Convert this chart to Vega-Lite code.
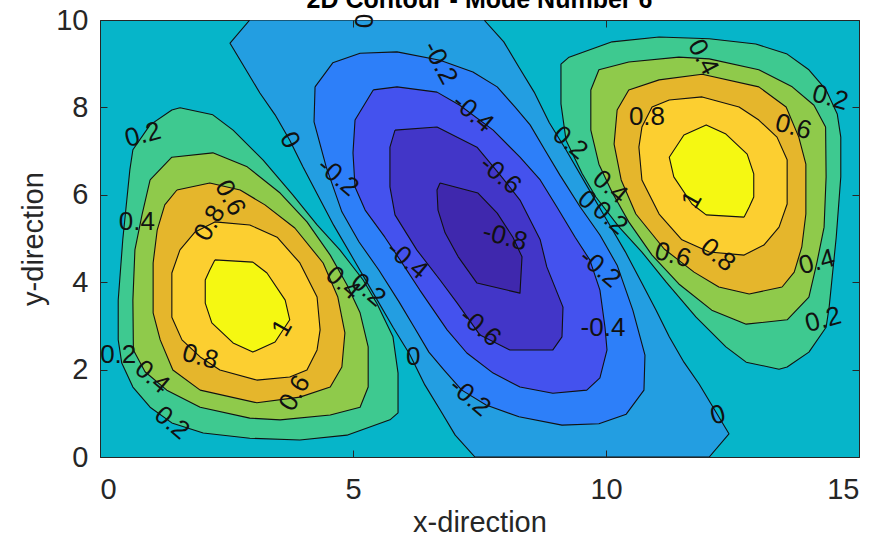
{
  "$schema": "https://vega.github.io/schema/vega-lite/v6.json",
  "width": 759,
  "height": 437,
  "autosize": {"type": "none"},
  "padding": {"left": 100, "top": 20, "right": 32, "bottom": 82},
  "background": "white",
  "title": {
    "text": "2D Contour - Mode Number 6",
    "font": "Liberation Sans",
    "fontSize": 25,
    "fontWeight": "bold",
    "color": "#000000",
    "anchor": "middle",
    "frame": "group",
    "baseline": "alphabetic",
    "offset": 0,
    "dy": 27
  },
  "config": {
    "font": "Liberation Sans",
    "view": {"fill": "#06b5c9", "stroke": "#262626", "strokeWidth": 1}
  },
  "datasets": {
    "contours": [
      {"lobe": "L", "level": "0.2", "i": 0, "x": 1.58, "y": 7.99},
      {"lobe": "L", "level": "0.2", "i": 1, "x": 2.23, "y": 7.83},
      {"lobe": "L", "level": "0.2", "i": 2, "x": 2.63, "y": 7.48},
      {"lobe": "L", "level": "0.2", "i": 3, "x": 3.22, "y": 6.80},
      {"lobe": "L", "level": "0.2", "i": 4, "x": 3.81, "y": 6.00},
      {"lobe": "L", "level": "0.2", "i": 5, "x": 4.29, "y": 5.31},
      {"lobe": "L", "level": "0.2", "i": 6, "x": 4.74, "y": 4.74},
      {"lobe": "L", "level": "0.2", "i": 7, "x": 5.20, "y": 4.05},
      {"lobe": "L", "level": "0.2", "i": 8, "x": 5.47, "y": 3.52},
      {"lobe": "L", "level": "0.2", "i": 9, "x": 5.79, "y": 2.75},
      {"lobe": "L", "level": "0.2", "i": 10, "x": 5.89, "y": 1.92},
      {"lobe": "L", "level": "0.2", "i": 11, "x": 5.89, "y": 1.01},
      {"lobe": "L", "level": "0.2", "i": 12, "x": 5.73, "y": 0.85},
      {"lobe": "L", "level": "0.2", "i": 13, "x": 4.88, "y": 0.50},
      {"lobe": "L", "level": "0.2", "i": 14, "x": 3.95, "y": 0.39},
      {"lobe": "L", "level": "0.2", "i": 15, "x": 2.96, "y": 0.43},
      {"lobe": "L", "level": "0.2", "i": 16, "x": 2.04, "y": 0.55},
      {"lobe": "L", "level": "0.2", "i": 17, "x": 1.42, "y": 0.78},
      {"lobe": "L", "level": "0.2", "i": 18, "x": 0.99, "y": 1.14},
      {"lobe": "L", "level": "0.2", "i": 19, "x": 0.65, "y": 1.60},
      {"lobe": "L", "level": "0.2", "i": 20, "x": 0.43, "y": 2.15},
      {"lobe": "L", "level": "0.2", "i": 21, "x": 0.36, "y": 2.68},
      {"lobe": "L", "level": "0.2", "i": 22, "x": 0.36, "y": 3.59},
      {"lobe": "L", "level": "0.2", "i": 23, "x": 0.45, "y": 4.97},
      {"lobe": "L", "level": "0.2", "i": 24, "x": 0.59, "y": 6.57},
      {"lobe": "L", "level": "0.2", "i": 25, "x": 0.65, "y": 7.03},
      {"lobe": "L", "level": "0.2", "i": 26, "x": 0.99, "y": 7.60},
      {"lobe": "L", "level": "0.2", "i": 27, "x": 1.42, "y": 7.94},
      {"lobe": "L", "level": "0.2", "i": 28, "x": 1.58, "y": 7.99},

      {"lobe": "R", "level": "0.2", "i": 0, "x": 13.42, "y": 2.01},
      {"lobe": "R", "level": "0.2", "i": 1, "x": 12.77, "y": 2.17},
      {"lobe": "R", "level": "0.2", "i": 2, "x": 12.37, "y": 2.52},
      {"lobe": "R", "level": "0.2", "i": 3, "x": 11.78, "y": 3.20},
      {"lobe": "R", "level": "0.2", "i": 4, "x": 11.19, "y": 4.00},
      {"lobe": "R", "level": "0.2", "i": 5, "x": 10.71, "y": 4.69},
      {"lobe": "R", "level": "0.2", "i": 6, "x": 10.26, "y": 5.26},
      {"lobe": "R", "level": "0.2", "i": 7, "x": 9.80, "y": 5.95},
      {"lobe": "R", "level": "0.2", "i": 8, "x": 9.53, "y": 6.48},
      {"lobe": "R", "level": "0.2", "i": 9, "x": 9.21, "y": 7.25},
      {"lobe": "R", "level": "0.2", "i": 10, "x": 9.11, "y": 8.08},
      {"lobe": "R", "level": "0.2", "i": 11, "x": 9.11, "y": 8.99},
      {"lobe": "R", "level": "0.2", "i": 12, "x": 9.27, "y": 9.15},
      {"lobe": "R", "level": "0.2", "i": 13, "x": 10.12, "y": 9.50},
      {"lobe": "R", "level": "0.2", "i": 14, "x": 11.05, "y": 9.61},
      {"lobe": "R", "level": "0.2", "i": 15, "x": 12.04, "y": 9.57},
      {"lobe": "R", "level": "0.2", "i": 16, "x": 12.96, "y": 9.45},
      {"lobe": "R", "level": "0.2", "i": 17, "x": 13.58, "y": 9.22},
      {"lobe": "R", "level": "0.2", "i": 18, "x": 14.01, "y": 8.86},
      {"lobe": "R", "level": "0.2", "i": 19, "x": 14.35, "y": 8.40},
      {"lobe": "R", "level": "0.2", "i": 20, "x": 14.57, "y": 7.85},
      {"lobe": "R", "level": "0.2", "i": 21, "x": 14.64, "y": 7.32},
      {"lobe": "R", "level": "0.2", "i": 22, "x": 14.64, "y": 6.41},
      {"lobe": "R", "level": "0.2", "i": 23, "x": 14.55, "y": 5.03},
      {"lobe": "R", "level": "0.2", "i": 24, "x": 14.41, "y": 3.43},
      {"lobe": "R", "level": "0.2", "i": 25, "x": 14.35, "y": 2.97},
      {"lobe": "R", "level": "0.2", "i": 26, "x": 14.01, "y": 2.40},
      {"lobe": "R", "level": "0.2", "i": 27, "x": 13.58, "y": 2.06},
      {"lobe": "R", "level": "0.2", "i": 28, "x": 13.42, "y": 2.01},

      {"lobe": "N", "level": "0", "i": 0, "x": 2.96, "y": 10},
      {"lobe": "N", "level": "0", "i": 1, "x": 2.57, "y": 9.47},
      {"lobe": "N", "level": "0", "i": 2, "x": 3.16, "y": 8.33},
      {"lobe": "N", "level": "0", "i": 3, "x": 3.46, "y": 7.83},
      {"lobe": "N", "level": "0", "i": 4, "x": 3.75, "y": 7.25},
      {"lobe": "N", "level": "0", "i": 5, "x": 4.01, "y": 6.64},
      {"lobe": "N", "level": "0", "i": 6, "x": 4.30, "y": 6.00},
      {"lobe": "N", "level": "0", "i": 7, "x": 4.62, "y": 5.30},
      {"lobe": "N", "level": "0", "i": 8, "x": 5.00, "y": 4.55},
      {"lobe": "N", "level": "0", "i": 9, "x": 5.40, "y": 3.75},
      {"lobe": "N", "level": "0", "i": 10, "x": 5.80, "y": 2.95},
      {"lobe": "N", "level": "0", "i": 11, "x": 6.12, "y": 2.35},
      {"lobe": "N", "level": "0", "i": 12, "x": 6.42, "y": 1.65},
      {"lobe": "N", "level": "0", "i": 13, "x": 6.72, "y": 1.08},
      {"lobe": "N", "level": "0", "i": 14, "x": 7.02, "y": 0.50},
      {"lobe": "N", "level": "0", "i": 15, "x": 7.41, "y": 0},
      {"lobe": "N", "level": "0", "i": 16, "x": 12.04, "y": 0},
      {"lobe": "N", "level": "0", "i": 17, "x": 12.43, "y": 0.53},
      {"lobe": "N", "level": "0", "i": 18, "x": 11.84, "y": 1.67},
      {"lobe": "N", "level": "0", "i": 19, "x": 11.54, "y": 2.17},
      {"lobe": "N", "level": "0", "i": 20, "x": 11.25, "y": 2.75},
      {"lobe": "N", "level": "0", "i": 21, "x": 10.99, "y": 3.36},
      {"lobe": "N", "level": "0", "i": 22, "x": 10.70, "y": 4.00},
      {"lobe": "N", "level": "0", "i": 23, "x": 10.38, "y": 4.70},
      {"lobe": "N", "level": "0", "i": 24, "x": 10.00, "y": 5.45},
      {"lobe": "N", "level": "0", "i": 25, "x": 9.60, "y": 6.25},
      {"lobe": "N", "level": "0", "i": 26, "x": 9.20, "y": 7.05},
      {"lobe": "N", "level": "0", "i": 27, "x": 8.88, "y": 7.65},
      {"lobe": "N", "level": "0", "i": 28, "x": 8.58, "y": 8.35},
      {"lobe": "N", "level": "0", "i": 29, "x": 8.28, "y": 8.92},
      {"lobe": "N", "level": "0", "i": 30, "x": 7.98, "y": 9.50},
      {"lobe": "N", "level": "0", "i": 31, "x": 7.59, "y": 10},
      {"lobe": "N", "level": "0", "i": 32, "x": 2.96, "y": 10},

      {"lobe": "L", "level": "0.4", "i": 0, "x": 0.99, "y": 6.34},
      {"lobe": "L", "level": "0.4", "i": 1, "x": 1.42, "y": 6.86},
      {"lobe": "L", "level": "0.4", "i": 2, "x": 2.23, "y": 6.96},
      {"lobe": "L", "level": "0.4", "i": 3, "x": 2.91, "y": 6.64},
      {"lobe": "L", "level": "0.4", "i": 4, "x": 3.56, "y": 6.04},
      {"lobe": "L", "level": "0.4", "i": 5, "x": 4.09, "y": 5.38},
      {"lobe": "L", "level": "0.4", "i": 6, "x": 4.55, "y": 4.62},
      {"lobe": "L", "level": "0.4", "i": 7, "x": 4.88, "y": 3.94},
      {"lobe": "L", "level": "0.4", "i": 8, "x": 5.14, "y": 3.30},
      {"lobe": "L", "level": "0.4", "i": 9, "x": 5.30, "y": 2.52},
      {"lobe": "L", "level": "0.4", "i": 10, "x": 5.30, "y": 1.60},
      {"lobe": "L", "level": "0.4", "i": 11, "x": 5.14, "y": 1.14},
      {"lobe": "L", "level": "0.4", "i": 12, "x": 4.55, "y": 0.96},
      {"lobe": "L", "level": "0.4", "i": 13, "x": 3.56, "y": 0.85},
      {"lobe": "L", "level": "0.4", "i": 14, "x": 2.96, "y": 0.89},
      {"lobe": "L", "level": "0.4", "i": 15, "x": 1.98, "y": 1.14},
      {"lobe": "L", "level": "0.4", "i": 16, "x": 1.32, "y": 1.53},
      {"lobe": "L", "level": "0.4", "i": 17, "x": 0.89, "y": 1.95},
      {"lobe": "L", "level": "0.4", "i": 18, "x": 0.66, "y": 2.45},
      {"lobe": "L", "level": "0.4", "i": 19, "x": 0.65, "y": 3.59},
      {"lobe": "L", "level": "0.4", "i": 20, "x": 0.69, "y": 4.74},
      {"lobe": "L", "level": "0.4", "i": 21, "x": 0.83, "y": 5.54},
      {"lobe": "L", "level": "0.4", "i": 22, "x": 0.99, "y": 6.34},

      {"lobe": "R", "level": "0.4", "i": 0, "x": 14.01, "y": 3.66},
      {"lobe": "R", "level": "0.4", "i": 1, "x": 13.58, "y": 3.14},
      {"lobe": "R", "level": "0.4", "i": 2, "x": 12.77, "y": 3.04},
      {"lobe": "R", "level": "0.4", "i": 3, "x": 12.09, "y": 3.36},
      {"lobe": "R", "level": "0.4", "i": 4, "x": 11.44, "y": 3.96},
      {"lobe": "R", "level": "0.4", "i": 5, "x": 10.91, "y": 4.62},
      {"lobe": "R", "level": "0.4", "i": 6, "x": 10.45, "y": 5.38},
      {"lobe": "R", "level": "0.4", "i": 7, "x": 10.12, "y": 6.06},
      {"lobe": "R", "level": "0.4", "i": 8, "x": 9.86, "y": 6.70},
      {"lobe": "R", "level": "0.4", "i": 9, "x": 9.70, "y": 7.48},
      {"lobe": "R", "level": "0.4", "i": 10, "x": 9.70, "y": 8.40},
      {"lobe": "R", "level": "0.4", "i": 11, "x": 9.86, "y": 8.86},
      {"lobe": "R", "level": "0.4", "i": 12, "x": 10.45, "y": 9.04},
      {"lobe": "R", "level": "0.4", "i": 13, "x": 11.44, "y": 9.15},
      {"lobe": "R", "level": "0.4", "i": 14, "x": 12.04, "y": 9.11},
      {"lobe": "R", "level": "0.4", "i": 15, "x": 13.02, "y": 8.86},
      {"lobe": "R", "level": "0.4", "i": 16, "x": 13.68, "y": 8.47},
      {"lobe": "R", "level": "0.4", "i": 17, "x": 14.11, "y": 8.05},
      {"lobe": "R", "level": "0.4", "i": 18, "x": 14.34, "y": 7.55},
      {"lobe": "R", "level": "0.4", "i": 19, "x": 14.35, "y": 6.41},
      {"lobe": "R", "level": "0.4", "i": 20, "x": 14.31, "y": 5.26},
      {"lobe": "R", "level": "0.4", "i": 21, "x": 14.17, "y": 4.46},
      {"lobe": "R", "level": "0.4", "i": 22, "x": 14.01, "y": 3.66},

      {"lobe": "N", "level": "-0.2", "i": 0, "x": 4.25, "y": 8.47},
      {"lobe": "N", "level": "-0.2", "i": 1, "x": 4.60, "y": 9.02},
      {"lobe": "N", "level": "-0.2", "i": 2, "x": 5.14, "y": 9.24},
      {"lobe": "N", "level": "-0.2", "i": 3, "x": 5.87, "y": 9.27},
      {"lobe": "N", "level": "-0.2", "i": 4, "x": 6.72, "y": 9.08},
      {"lobe": "N", "level": "-0.2", "i": 5, "x": 7.37, "y": 8.81},
      {"lobe": "N", "level": "-0.2", "i": 6, "x": 7.85, "y": 8.47},
      {"lobe": "N", "level": "-0.2", "i": 7, "x": 8.20, "y": 8.01},
      {"lobe": "N", "level": "-0.2", "i": 8, "x": 8.50, "y": 7.60},
      {"lobe": "N", "level": "-0.2", "i": 9, "x": 8.79, "y": 7.03},
      {"lobe": "N", "level": "-0.2", "i": 10, "x": 9.09, "y": 6.45},
      {"lobe": "N", "level": "-0.2", "i": 11, "x": 9.49, "y": 5.72},
      {"lobe": "N", "level": "-0.2", "i": 12, "x": 9.88, "y": 5.08},
      {"lobe": "N", "level": "-0.2", "i": 13, "x": 10.22, "y": 4.39},
      {"lobe": "N", "level": "-0.2", "i": 14, "x": 10.53, "y": 3.36},
      {"lobe": "N", "level": "-0.2", "i": 15, "x": 10.77, "y": 2.33},
      {"lobe": "N", "level": "-0.2", "i": 16, "x": 10.75, "y": 1.53},
      {"lobe": "N", "level": "-0.2", "i": 17, "x": 10.40, "y": 0.98},
      {"lobe": "N", "level": "-0.2", "i": 18, "x": 9.86, "y": 0.76},
      {"lobe": "N", "level": "-0.2", "i": 19, "x": 9.13, "y": 0.73},
      {"lobe": "N", "level": "-0.2", "i": 20, "x": 8.28, "y": 0.92},
      {"lobe": "N", "level": "-0.2", "i": 21, "x": 7.63, "y": 1.19},
      {"lobe": "N", "level": "-0.2", "i": 22, "x": 7.15, "y": 1.53},
      {"lobe": "N", "level": "-0.2", "i": 23, "x": 6.80, "y": 1.99},
      {"lobe": "N", "level": "-0.2", "i": 24, "x": 6.50, "y": 2.40},
      {"lobe": "N", "level": "-0.2", "i": 25, "x": 6.21, "y": 2.97},
      {"lobe": "N", "level": "-0.2", "i": 26, "x": 5.91, "y": 3.55},
      {"lobe": "N", "level": "-0.2", "i": 27, "x": 5.51, "y": 4.28},
      {"lobe": "N", "level": "-0.2", "i": 28, "x": 5.12, "y": 4.92},
      {"lobe": "N", "level": "-0.2", "i": 29, "x": 4.78, "y": 5.61},
      {"lobe": "N", "level": "-0.2", "i": 30, "x": 4.47, "y": 6.64},
      {"lobe": "N", "level": "-0.2", "i": 31, "x": 4.23, "y": 7.67},
      {"lobe": "N", "level": "-0.2", "i": 32, "x": 4.25, "y": 8.47},

      {"lobe": "L", "level": "0.6", "i": 0, "x": 1.52, "y": 6.11},
      {"lobe": "L", "level": "0.6", "i": 1, "x": 2.17, "y": 6.27},
      {"lobe": "L", "level": "0.6", "i": 2, "x": 2.77, "y": 6.11},
      {"lobe": "L", "level": "0.6", "i": 3, "x": 3.26, "y": 5.77},
      {"lobe": "L", "level": "0.6", "i": 4, "x": 3.85, "y": 5.24},
      {"lobe": "L", "level": "0.6", "i": 5, "x": 4.41, "y": 4.44},
      {"lobe": "L", "level": "0.6", "i": 6, "x": 4.70, "y": 3.66},
      {"lobe": "L", "level": "0.6", "i": 7, "x": 4.84, "y": 2.84},
      {"lobe": "L", "level": "0.6", "i": 8, "x": 4.78, "y": 2.06},
      {"lobe": "L", "level": "0.6", "i": 9, "x": 4.55, "y": 1.60},
      {"lobe": "L", "level": "0.6", "i": 10, "x": 3.95, "y": 1.37},
      {"lobe": "L", "level": "0.6", "i": 11, "x": 3.10, "y": 1.24},
      {"lobe": "L", "level": "0.6", "i": 12, "x": 1.98, "y": 1.53},
      {"lobe": "L", "level": "0.6", "i": 13, "x": 1.44, "y": 1.99},
      {"lobe": "L", "level": "0.6", "i": 14, "x": 1.19, "y": 2.68},
      {"lobe": "L", "level": "0.6", "i": 15, "x": 1.05, "y": 3.30},
      {"lobe": "L", "level": "0.6", "i": 16, "x": 1.05, "y": 4.44},
      {"lobe": "L", "level": "0.6", "i": 17, "x": 1.13, "y": 5.19},
      {"lobe": "L", "level": "0.6", "i": 18, "x": 1.28, "y": 5.77},
      {"lobe": "L", "level": "0.6", "i": 19, "x": 1.52, "y": 6.11},

      {"lobe": "R", "level": "0.6", "i": 0, "x": 13.48, "y": 3.89},
      {"lobe": "R", "level": "0.6", "i": 1, "x": 12.83, "y": 3.73},
      {"lobe": "R", "level": "0.6", "i": 2, "x": 12.23, "y": 3.89},
      {"lobe": "R", "level": "0.6", "i": 3, "x": 11.74, "y": 4.23},
      {"lobe": "R", "level": "0.6", "i": 4, "x": 11.15, "y": 4.76},
      {"lobe": "R", "level": "0.6", "i": 5, "x": 10.59, "y": 5.56},
      {"lobe": "R", "level": "0.6", "i": 6, "x": 10.30, "y": 6.34},
      {"lobe": "R", "level": "0.6", "i": 7, "x": 10.16, "y": 7.16},
      {"lobe": "R", "level": "0.6", "i": 8, "x": 10.22, "y": 7.94},
      {"lobe": "R", "level": "0.6", "i": 9, "x": 10.45, "y": 8.40},
      {"lobe": "R", "level": "0.6", "i": 10, "x": 11.05, "y": 8.63},
      {"lobe": "R", "level": "0.6", "i": 11, "x": 11.90, "y": 8.76},
      {"lobe": "R", "level": "0.6", "i": 12, "x": 13.02, "y": 8.47},
      {"lobe": "R", "level": "0.6", "i": 13, "x": 13.56, "y": 8.01},
      {"lobe": "R", "level": "0.6", "i": 14, "x": 13.81, "y": 7.32},
      {"lobe": "R", "level": "0.6", "i": 15, "x": 13.95, "y": 6.70},
      {"lobe": "R", "level": "0.6", "i": 16, "x": 13.95, "y": 5.56},
      {"lobe": "R", "level": "0.6", "i": 17, "x": 13.87, "y": 4.81},
      {"lobe": "R", "level": "0.6", "i": 18, "x": 13.72, "y": 4.23},
      {"lobe": "R", "level": "0.6", "i": 19, "x": 13.48, "y": 3.89},

      {"lobe": "N", "level": "-0.4", "i": 0, "x": 5.40, "y": 8.40},
      {"lobe": "N", "level": "-0.4", "i": 1, "x": 5.87, "y": 8.47},
      {"lobe": "N", "level": "-0.4", "i": 2, "x": 6.66, "y": 8.35},
      {"lobe": "N", "level": "-0.4", "i": 3, "x": 7.11, "y": 8.05},
      {"lobe": "N", "level": "-0.4", "i": 4, "x": 7.77, "y": 7.48},
      {"lobe": "N", "level": "-0.4", "i": 5, "x": 8.30, "y": 6.86},
      {"lobe": "N", "level": "-0.4", "i": 6, "x": 8.70, "y": 6.34},
      {"lobe": "N", "level": "-0.4", "i": 7, "x": 9.03, "y": 5.72},
      {"lobe": "N", "level": "-0.4", "i": 8, "x": 9.39, "y": 5.03},
      {"lobe": "N", "level": "-0.4", "i": 9, "x": 9.68, "y": 4.51},
      {"lobe": "N", "level": "-0.4", "i": 10, "x": 9.88, "y": 3.82},
      {"lobe": "N", "level": "-0.4", "i": 11, "x": 9.98, "y": 2.97},
      {"lobe": "N", "level": "-0.4", "i": 12, "x": 10.02, "y": 2.45},
      {"lobe": "N", "level": "-0.4", "i": 13, "x": 9.88, "y": 1.81},
      {"lobe": "N", "level": "-0.4", "i": 14, "x": 9.62, "y": 1.53},
      {"lobe": "N", "level": "-0.4", "i": 15, "x": 8.95, "y": 1.46},
      {"lobe": "N", "level": "-0.4", "i": 16, "x": 8.30, "y": 1.60},
      {"lobe": "N", "level": "-0.4", "i": 17, "x": 7.77, "y": 1.92},
      {"lobe": "N", "level": "-0.4", "i": 18, "x": 7.25, "y": 2.38},
      {"lobe": "N", "level": "-0.4", "i": 19, "x": 6.86, "y": 2.91},
      {"lobe": "N", "level": "-0.4", "i": 20, "x": 6.32, "y": 3.82},
      {"lobe": "N", "level": "-0.4", "i": 21, "x": 5.93, "y": 4.51},
      {"lobe": "N", "level": "-0.4", "i": 22, "x": 5.63, "y": 5.03},
      {"lobe": "N", "level": "-0.4", "i": 23, "x": 5.24, "y": 5.65},
      {"lobe": "N", "level": "-0.4", "i": 24, "x": 5.04, "y": 6.18},
      {"lobe": "N", "level": "-0.4", "i": 25, "x": 5.00, "y": 6.96},
      {"lobe": "N", "level": "-0.4", "i": 26, "x": 5.04, "y": 7.71},
      {"lobe": "N", "level": "-0.4", "i": 27, "x": 5.40, "y": 8.40},

      {"lobe": "L", "level": "0.8", "i": 0, "x": 1.58, "y": 4.74},
      {"lobe": "L", "level": "0.8", "i": 1, "x": 1.42, "y": 4.21},
      {"lobe": "L", "level": "0.8", "i": 2, "x": 1.42, "y": 3.20},
      {"lobe": "L", "level": "0.8", "i": 3, "x": 1.62, "y": 2.68},
      {"lobe": "L", "level": "0.8", "i": 4, "x": 1.98, "y": 2.29},
      {"lobe": "L", "level": "0.8", "i": 5, "x": 2.37, "y": 1.99},
      {"lobe": "L", "level": "0.8", "i": 6, "x": 3.10, "y": 1.76},
      {"lobe": "L", "level": "0.8", "i": 7, "x": 3.75, "y": 1.83},
      {"lobe": "L", "level": "0.8", "i": 8, "x": 4.09, "y": 1.99},
      {"lobe": "L", "level": "0.8", "i": 9, "x": 4.29, "y": 2.45},
      {"lobe": "L", "level": "0.8", "i": 10, "x": 4.35, "y": 2.91},
      {"lobe": "L", "level": "0.8", "i": 11, "x": 4.29, "y": 3.66},
      {"lobe": "L", "level": "0.8", "i": 12, "x": 3.95, "y": 4.44},
      {"lobe": "L", "level": "0.8", "i": 13, "x": 3.50, "y": 5.03},
      {"lobe": "L", "level": "0.8", "i": 14, "x": 2.96, "y": 5.31},
      {"lobe": "L", "level": "0.8", "i": 15, "x": 2.27, "y": 5.38},
      {"lobe": "L", "level": "0.8", "i": 16, "x": 1.88, "y": 5.15},
      {"lobe": "L", "level": "0.8", "i": 17, "x": 1.58, "y": 4.74},

      {"lobe": "R", "level": "0.8", "i": 0, "x": 13.42, "y": 5.26},
      {"lobe": "R", "level": "0.8", "i": 1, "x": 13.58, "y": 5.79},
      {"lobe": "R", "level": "0.8", "i": 2, "x": 13.58, "y": 6.80},
      {"lobe": "R", "level": "0.8", "i": 3, "x": 13.38, "y": 7.32},
      {"lobe": "R", "level": "0.8", "i": 4, "x": 13.02, "y": 7.71},
      {"lobe": "R", "level": "0.8", "i": 5, "x": 12.63, "y": 8.01},
      {"lobe": "R", "level": "0.8", "i": 6, "x": 11.90, "y": 8.24},
      {"lobe": "R", "level": "0.8", "i": 7, "x": 11.25, "y": 8.17},
      {"lobe": "R", "level": "0.8", "i": 8, "x": 10.91, "y": 8.01},
      {"lobe": "R", "level": "0.8", "i": 9, "x": 10.71, "y": 7.55},
      {"lobe": "R", "level": "0.8", "i": 10, "x": 10.65, "y": 7.09},
      {"lobe": "R", "level": "0.8", "i": 11, "x": 10.71, "y": 6.34},
      {"lobe": "R", "level": "0.8", "i": 12, "x": 11.05, "y": 5.56},
      {"lobe": "R", "level": "0.8", "i": 13, "x": 11.50, "y": 4.97},
      {"lobe": "R", "level": "0.8", "i": 14, "x": 12.04, "y": 4.69},
      {"lobe": "R", "level": "0.8", "i": 15, "x": 12.73, "y": 4.62},
      {"lobe": "R", "level": "0.8", "i": 16, "x": 13.12, "y": 4.85},
      {"lobe": "R", "level": "0.8", "i": 17, "x": 13.42, "y": 5.26},

      {"lobe": "N", "level": "-0.6", "i": 0, "x": 5.83, "y": 7.48},
      {"lobe": "N", "level": "-0.6", "i": 1, "x": 6.66, "y": 7.55},
      {"lobe": "N", "level": "-0.6", "i": 2, "x": 7.45, "y": 7.09},
      {"lobe": "N", "level": "-0.6", "i": 3, "x": 7.91, "y": 6.45},
      {"lobe": "N", "level": "-0.6", "i": 4, "x": 8.30, "y": 5.88},
      {"lobe": "N", "level": "-0.6", "i": 5, "x": 8.70, "y": 4.97},
      {"lobe": "N", "level": "-0.6", "i": 6, "x": 8.83, "y": 4.35},
      {"lobe": "N", "level": "-0.6", "i": 7, "x": 9.15, "y": 3.43},
      {"lobe": "N", "level": "-0.6", "i": 8, "x": 9.13, "y": 2.75},
      {"lobe": "N", "level": "-0.6", "i": 9, "x": 8.95, "y": 2.45},
      {"lobe": "N", "level": "-0.6", "i": 10, "x": 8.10, "y": 2.45},
      {"lobe": "N", "level": "-0.6", "i": 11, "x": 7.51, "y": 2.79},
      {"lobe": "N", "level": "-0.6", "i": 12, "x": 7.06, "y": 3.52},
      {"lobe": "N", "level": "-0.6", "i": 13, "x": 6.72, "y": 4.05},
      {"lobe": "N", "level": "-0.6", "i": 14, "x": 6.26, "y": 4.74},
      {"lobe": "N", "level": "-0.6", "i": 15, "x": 5.83, "y": 5.54},
      {"lobe": "N", "level": "-0.6", "i": 16, "x": 5.73, "y": 6.18},
      {"lobe": "N", "level": "-0.6", "i": 17, "x": 5.73, "y": 7.09},
      {"lobe": "N", "level": "-0.6", "i": 18, "x": 5.83, "y": 7.48},

      {"lobe": "L", "level": "1", "i": 0, "x": 2.27, "y": 4.51},
      {"lobe": "L", "level": "1", "i": 1, "x": 3.02, "y": 4.46},
      {"lobe": "L", "level": "1", "i": 2, "x": 3.30, "y": 4.21},
      {"lobe": "L", "level": "1", "i": 3, "x": 3.66, "y": 3.59},
      {"lobe": "L", "level": "1", "i": 4, "x": 3.75, "y": 3.14},
      {"lobe": "L", "level": "1", "i": 5, "x": 3.46, "y": 2.63},
      {"lobe": "L", "level": "1", "i": 6, "x": 3.02, "y": 2.40},
      {"lobe": "L", "level": "1", "i": 7, "x": 2.63, "y": 2.61},
      {"lobe": "L", "level": "1", "i": 8, "x": 2.21, "y": 3.07},
      {"lobe": "L", "level": "1", "i": 9, "x": 2.08, "y": 3.52},
      {"lobe": "L", "level": "1", "i": 10, "x": 2.08, "y": 4.05},
      {"lobe": "L", "level": "1", "i": 11, "x": 2.17, "y": 4.28},
      {"lobe": "L", "level": "1", "i": 12, "x": 2.27, "y": 4.51},

      {"lobe": "R", "level": "1", "i": 0, "x": 12.73, "y": 5.49},
      {"lobe": "R", "level": "1", "i": 1, "x": 11.98, "y": 5.54},
      {"lobe": "R", "level": "1", "i": 2, "x": 11.70, "y": 5.79},
      {"lobe": "R", "level": "1", "i": 3, "x": 11.34, "y": 6.41},
      {"lobe": "R", "level": "1", "i": 4, "x": 11.25, "y": 6.86},
      {"lobe": "R", "level": "1", "i": 5, "x": 11.54, "y": 7.37},
      {"lobe": "R", "level": "1", "i": 6, "x": 11.98, "y": 7.60},
      {"lobe": "R", "level": "1", "i": 7, "x": 12.37, "y": 7.39},
      {"lobe": "R", "level": "1", "i": 8, "x": 12.79, "y": 6.93},
      {"lobe": "R", "level": "1", "i": 9, "x": 12.92, "y": 6.48},
      {"lobe": "R", "level": "1", "i": 10, "x": 12.92, "y": 5.95},
      {"lobe": "R", "level": "1", "i": 11, "x": 12.83, "y": 5.72},
      {"lobe": "R", "level": "1", "i": 12, "x": 12.73, "y": 5.49},

      {"lobe": "N", "level": "-0.8", "i": 0, "x": 6.72, "y": 6.27},
      {"lobe": "N", "level": "-0.8", "i": 1, "x": 7.47, "y": 6.04},
      {"lobe": "N", "level": "-0.8", "i": 2, "x": 7.85, "y": 5.58},
      {"lobe": "N", "level": "-0.8", "i": 3, "x": 8.16, "y": 5.03},
      {"lobe": "N", "level": "-0.8", "i": 4, "x": 8.34, "y": 4.58},
      {"lobe": "N", "level": "-0.8", "i": 5, "x": 8.30, "y": 3.75},
      {"lobe": "N", "level": "-0.8", "i": 6, "x": 7.45, "y": 3.98},
      {"lobe": "N", "level": "-0.8", "i": 7, "x": 7.08, "y": 4.58},
      {"lobe": "N", "level": "-0.8", "i": 8, "x": 6.82, "y": 5.13},
      {"lobe": "N", "level": "-0.8", "i": 9, "x": 6.68, "y": 5.65},
      {"lobe": "N", "level": "-0.8", "i": 10, "x": 6.66, "y": 6.11},
      {"lobe": "N", "level": "-0.8", "i": 11, "x": 6.72, "y": 6.27}
    ]
  },
  "layer": [
    {
      "data": {"name": "contours"},
      "transform": [{"filter": {"field": "level", "oneOf": ["0.2", "0"]}}],
      "mark": {"type": "line", "stroke": "#111111", "strokeWidth": 1.1, "strokeJoin": "round", "clip": true},
      "encoding": {
        "x": {"field": "x", "type": "quantitative", "scale": {"domain": [0, 15], "nice": false, "zero": false},
          "axis": {"orient": "bottom", "values": [0, 5, 10, 15], "grid": false, "domain": false, "zindex": 1,
            "tickSize": -7, "tickColor": "#262626", "tickWidth": 1,
            "labelFontSize": 29, "labelColor": "#262626", "labelPadding": 25, "labelFont": "Liberation Sans",
            "title": "x-direction", "titleFontSize": 29, "titleFontWeight": "normal", "titleColor": "#262626", "titleFont": "Liberation Sans", "titlePadding": 4}},
        "y": {"field": "y", "type": "quantitative", "scale": {"domain": [0, 10], "nice": false, "zero": false},
          "axis": {"orient": "left", "values": [0, 2, 4, 6, 8, 10], "grid": false, "domain": false, "zindex": 1,
            "tickSize": -7, "tickColor": "#262626", "tickWidth": 1,
            "labelFontSize": 29, "labelColor": "#262626", "labelPadding": 19, "labelFont": "Liberation Sans",
            "title": "y-direction", "titleFontSize": 29, "titleFontWeight": "normal", "titleColor": "#262626", "titleFont": "Liberation Sans", "titlePadding": 7}},
        "order": {"field": "i", "type": "quantitative"},
        "detail": {"field": "lobe"},
        "fill": {"field": "level", "type": "nominal", "legend": null,
          "scale": {"domain": ["1", "0.8", "0.6", "0.4", "0.2", "0", "-0.2", "-0.4", "-0.6", "-0.8"],
            "range": ["#f5f812", "#fccf30", "#e5b62c", "#8fca4b", "#3ec990", "#239ee1", "#2d7ff9", "#4452ee", "#4236c8", "#3f28ad"]}}
      }
    },
    {
      "data": {"name": "contours"},
      "transform": [{"filter": {"field": "level", "oneOf": ["0.4", "-0.2"]}}],
      "mark": {"type": "line", "stroke": "#111111", "strokeWidth": 1.1, "strokeJoin": "round", "clip": true},
      "encoding": {
        "x": {"field": "x", "type": "quantitative",
          "axis": {"orient": "top", "values": [0, 5, 10, 15], "grid": false, "domain": false, "labels": false, "title": null, "zindex": 1,
            "tickSize": -7, "tickColor": "#262626", "tickWidth": 1}},
        "y": {"field": "y", "type": "quantitative",
          "axis": {"orient": "right", "values": [0, 2, 4, 6, 8, 10], "grid": false, "domain": false, "labels": false, "title": null, "zindex": 1,
            "tickSize": -7, "tickColor": "#262626", "tickWidth": 1}},
        "order": {"field": "i", "type": "quantitative"},
        "detail": {"field": "lobe"},
        "fill": {"field": "level", "type": "nominal", "legend": null}
      }
    },
    {
      "data": {"name": "contours"},
      "transform": [{"filter": {"field": "level", "oneOf": ["0.6", "-0.4"]}}],
      "mark": {"type": "line", "stroke": "#111111", "strokeWidth": 1.1, "strokeJoin": "round", "clip": true},
      "encoding": {
        "x": {"field": "x", "type": "quantitative", "axis": null},
        "y": {"field": "y", "type": "quantitative", "axis": null},
        "order": {"field": "i", "type": "quantitative"},
        "detail": {"field": "lobe"},
        "fill": {"field": "level", "type": "nominal", "legend": null}
      }
    },
    {
      "data": {"name": "contours"},
      "transform": [{"filter": {"field": "level", "oneOf": ["0.8", "-0.6"]}}],
      "mark": {"type": "line", "stroke": "#111111", "strokeWidth": 1.1, "strokeJoin": "round", "clip": true},
      "encoding": {
        "x": {"field": "x", "type": "quantitative", "axis": null},
        "y": {"field": "y", "type": "quantitative", "axis": null},
        "order": {"field": "i", "type": "quantitative"},
        "detail": {"field": "lobe"},
        "fill": {"field": "level", "type": "nominal", "legend": null}
      }
    },
    {
      "data": {"name": "contours"},
      "transform": [{"filter": {"field": "level", "oneOf": ["1", "-0.8"]}}],
      "mark": {"type": "line", "stroke": "#111111", "strokeWidth": 1.1, "strokeJoin": "round", "clip": true},
      "encoding": {
        "x": {"field": "x", "type": "quantitative", "axis": null},
        "y": {"field": "y", "type": "quantitative", "axis": null},
        "order": {"field": "i", "type": "quantitative"},
        "detail": {"field": "lobe"},
        "fill": {"field": "level", "type": "nominal", "legend": null}
      }
    },
    {
      "data": {"values": [
        {"x": 0.73, "y": 5.38, "label": "0.4"},
        {"x": 10.81, "y": 7.78, "label": "0.8"},
        {"x": 0.36, "y": 2.33, "label": "0.2"},
        {"x": 9.94, "y": 2.95, "label": "-0.4"},
        {"x": 6.19, "y": 2.29, "label": "0"}
      ]},
      "mark": {"type": "text", "angle": 0, "font": "Liberation Sans", "fontSize": 26, "color": "#111111"},
      "encoding": {
        "x": {"field": "x", "type": "quantitative", "axis": null},
        "y": {"field": "y", "type": "quantitative", "axis": null},
        "text": {"field": "label"}
      }
    },
    {
      "data": {"values": [
        {"x": 1.98, "y": 2.29, "label": "0.8"},
        {"x": 11.32, "y": 4.62, "label": "0.6"},
        {"x": 13.70, "y": 7.55, "label": "0.6"},
        {"x": 14.43, "y": 8.22, "label": "0.2"},
        {"x": 8.00, "y": 5.03, "label": "-0.8"}
      ]},
      "mark": {"type": "text", "angle": 15, "font": "Liberation Sans", "fontSize": 26, "color": "#111111"},
      "encoding": {
        "x": {"field": "x", "type": "quantitative", "axis": null},
        "y": {"field": "y", "type": "quantitative", "axis": null},
        "text": {"field": "label"}
      }
    },
    {
      "data": {"values": [
        {"x": 0.85, "y": 7.37, "label": "0.2"},
        {"x": 14.17, "y": 4.46, "label": "0.4"},
        {"x": 14.29, "y": 3.14, "label": "0.2"},
        {"x": 12.21, "y": 0.96, "label": "0"}
      ]},
      "mark": {"type": "text", "angle": -15, "font": "Liberation Sans", "fontSize": 26, "color": "#111111"},
      "encoding": {
        "x": {"field": "x", "type": "quantitative", "axis": null},
        "y": {"field": "y", "type": "quantitative", "axis": null},
        "text": {"field": "label"}
      }
    },
    {
      "data": {"values": [
        {"x": 1.03, "y": 1.83, "label": "0.4"},
        {"x": 1.42, "y": 0.78, "label": "0.2"},
        {"x": 4.70, "y": 6.41, "label": "-0.2"},
        {"x": 7.37, "y": 7.87, "label": "-0.4"},
        {"x": 7.91, "y": 6.45, "label": "-0.6"},
        {"x": 6.07, "y": 4.51, "label": "-0.4"},
        {"x": 7.51, "y": 2.97, "label": "-0.6"},
        {"x": 7.31, "y": 1.37, "label": "-0.2"},
        {"x": 9.88, "y": 4.32, "label": "-0.2"},
        {"x": 9.29, "y": 7.19, "label": "0.2"},
        {"x": 10.08, "y": 6.18, "label": "0.4"},
        {"x": 9.62, "y": 5.88, "label": "0"},
        {"x": 10.08, "y": 5.47, "label": "0.2"},
        {"x": 4.80, "y": 3.98, "label": "0.4"},
        {"x": 5.30, "y": 3.82, "label": "0.2"},
        {"x": 12.21, "y": 4.62, "label": "0.8"}
      ]},
      "mark": {"type": "text", "angle": 40, "font": "Liberation Sans", "fontSize": 26, "color": "#111111"},
      "encoding": {
        "x": {"field": "x", "type": "quantitative", "axis": null},
        "y": {"field": "y", "type": "quantitative", "axis": null},
        "text": {"field": "label"}
      }
    },
    {
      "data": {"values": [
        {"x": 2.57, "y": 5.93, "label": "0.6"},
        {"x": 6.72, "y": 9.02, "label": "-0.2"},
        {"x": 3.75, "y": 7.25, "label": "0"},
        {"x": 11.92, "y": 9.15, "label": "0.4"}
      ]},
      "mark": {"type": "text", "angle": 62, "font": "Liberation Sans", "fontSize": 26, "color": "#111111"},
      "encoding": {
        "x": {"field": "x", "type": "quantitative", "axis": null},
        "y": {"field": "y", "type": "quantitative", "axis": null},
        "text": {"field": "label"}
      }
    },
    {
      "data": {"values": [
        {"x": 2.17, "y": 5.35, "label": "0.8"},
        {"x": 3.85, "y": 1.46, "label": "0.6"},
        {"x": 3.60, "y": 2.95, "label": "1"},
        {"x": 11.70, "y": 5.88, "label": "1"}
      ]},
      "mark": {"type": "text", "angle": -60, "font": "Liberation Sans", "fontSize": 26, "color": "#111111"},
      "encoding": {
        "x": {"field": "x", "type": "quantitative", "axis": null},
        "y": {"field": "y", "type": "quantitative", "axis": null},
        "text": {"field": "label"}
      }
    },
    {
      "data": {"values": [
        {"x": 5.20, "y": 9.98, "label": "0"}
      ]},
      "mark": {"type": "text", "angle": 90, "font": "Liberation Sans", "fontSize": 26, "color": "#111111"},
      "encoding": {
        "x": {"field": "x", "type": "quantitative", "axis": null},
        "y": {"field": "y", "type": "quantitative", "axis": null},
        "text": {"field": "label"}
      }
    }
  ],
  "resolve": {"axis": {"x": "independent", "y": "independent"}}
}
